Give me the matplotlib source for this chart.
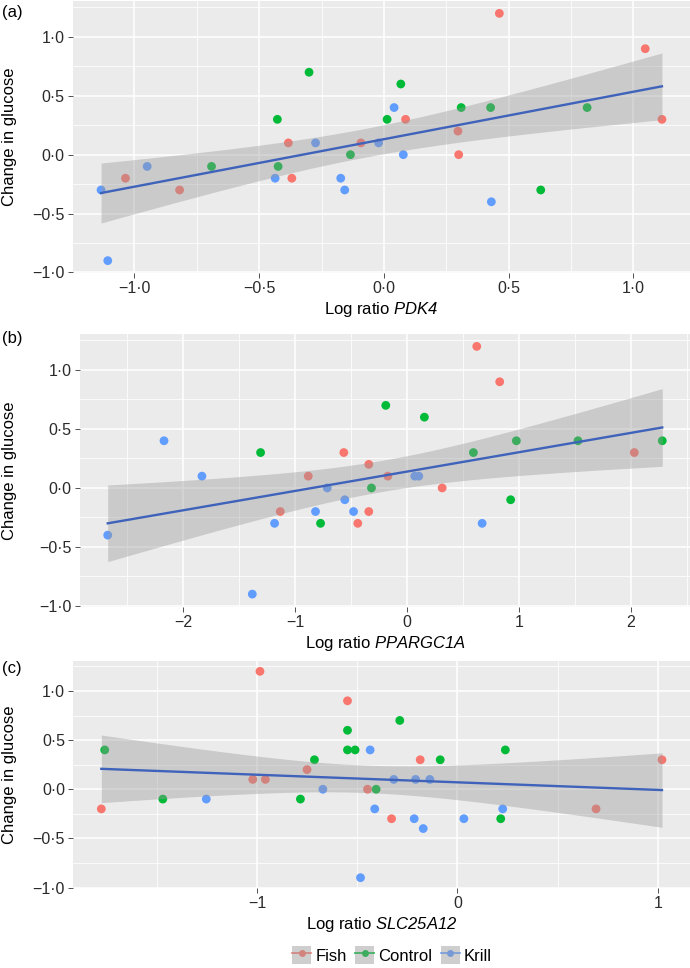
import numpy as np
import matplotlib
matplotlib.use("Agg")
import matplotlib.pyplot as plt
from matplotlib.lines import Line2D
from matplotlib.patches import Patch

plt.rcParams['font.family'] = ['Liberation Sans', 'DejaVu Sans']
plt.rcParams['mathtext.fontset'] = 'custom'
plt.rcParams['mathtext.it'] = 'Liberation Sans:italic'
plt.rcParams['mathtext.rm'] = 'Liberation Sans:italic'

groups = ['Fish', 'Control', 'Krill']
colors = ['#F8766D', '#00BA38', '#619CFF']

# (a) PDK4
pdk4_fish_x = [-1.036, -0.819, -0.383, -0.369, 0.463, 1.048, 1.115, 0.087, 0.297, -0.092, 0.300]
pdk4_fish_y = [-0.2, -0.3, 0.1, -0.2, 1.2, 0.9, 0.3, 0.3, 0.2, 0.1, 0.0]
pdk4_ctrl_x = [-0.691, -0.300, -0.427, -0.424, 0.068, 0.013, 0.310, 0.428, 0.815, -0.134, 0.629]
pdk4_ctrl_y = [-0.1, 0.7, 0.3, -0.1, 0.6, 0.3, 0.4, 0.4, 0.4, 0.0, -0.3]
pdk4_krill_x = [-1.134, -1.107, -0.949, -0.274, -0.436, -0.173, -0.157, 0.041, -0.021, 0.078, 0.431]
pdk4_krill_y = [-0.3, -0.9, -0.1, 0.1, -0.2, -0.2, -0.3, 0.4, 0.1, 0.0, -0.4]

# (b) PPARGC1A
ppar_fish_x = [-1.134, -0.884, -0.566, -0.441, -0.343, -0.343, -0.173, 0.313, 0.622, 0.827, 2.030]
ppar_fish_y = [-0.2, 0.1, 0.3, -0.3, -0.2, 0.2, 0.1, 0.0, 1.2, 0.9, 0.3]
ppar_ctrl_x = [-1.310, -0.774, -0.319, -0.191, 0.154, 0.592, 0.976, 0.925, 1.527, 2.280]
ppar_ctrl_y = [0.3, -0.3, 0.0, 0.7, 0.6, 0.3, 0.4, -0.1, 0.4, 0.4]
ppar_krill_x = [-2.676, -2.173, -1.834, -1.384, -1.185, -0.819, -0.714, -0.557, -0.479, 0.068, 0.104, 0.670]
ppar_krill_y = [-0.4, 0.4, 0.1, -0.9, -0.3, -0.2, 0.0, -0.1, -0.2, 0.1, 0.1, -0.3]

# (c) SLC25A12
slc_fish_x = [-1.778, -0.986, -1.022, -0.959, -0.751, -0.549, -0.186, 1.021, -0.449, -0.329, 0.692]
slc_fish_y = [-0.2, 1.2, 0.1, 0.1, 0.2, 0.9, 0.3, 0.3, 0.0, -0.3, -0.2]
slc_ctrl_x = [-1.761, -1.471, -0.784, -0.714, -0.549, -0.549, -0.511, -0.288, -0.086, 0.239, -0.406, 0.216]
slc_ctrl_y = [0.4, -0.1, -0.1, 0.3, 0.6, 0.4, 0.4, 0.7, 0.3, 0.4, 0.0, -0.3]
slc_krill_x = [-1.254, -0.672, -0.436, -0.318, -0.209, -0.138, -0.413, -0.216, -0.171, 0.032, 0.226, -0.484]
slc_krill_y = [-0.1, 0.0, 0.4, 0.1, 0.1, 0.1, -0.2, -0.3, -0.4, -0.3, -0.2, -0.9]

panels = [
    ('(a)', 'PDK4', [(pdk4_fish_x, pdk4_fish_y), (pdk4_ctrl_x, pdk4_ctrl_y), (pdk4_krill_x, pdk4_krill_y)],
     [-1.0, -0.5, 0.0, 0.5, 1.0], 1),
    ('(b)', 'PPARGC1A', [(ppar_fish_x, ppar_fish_y), (ppar_ctrl_x, ppar_ctrl_y), (ppar_krill_x, ppar_krill_y)],
     [-2, -1, 0, 1, 2], 0),
    ('(c)', 'SLC25A12', [(slc_fish_x, slc_fish_y), (slc_ctrl_x, slc_ctrl_y), (slc_krill_x, slc_krill_y)],
     [-1, 0, 1], 0),
]
yticks = [-1.0, -0.5, 0.0, 0.5, 1.0]

W, H = 690, 968
# left, top, bottom in pixels
boxes = [(73, 1, 273), (80, 334, 606.5), (73.3, 661, 888)]
label_y = [12, 338, 668]


def fmt(v, nd):
    if abs(v) < 1e-9:
        v = 0.0
    s = f"{v:.{nd}f}".replace('.', '\u00b7')
    return s.replace('-', '\u2212')


def expand(lo, hi):
    d = (hi - lo) * 0.05
    return lo - d, hi + d


fig = plt.figure(figsize=(W / 100, H / 100), dpi=100)

for (tag, gene, data, xt, nd), (l, t, b), ly in zip(panels, boxes, label_y):
    ax = fig.add_axes([l / W, 1 - b / H, (W - l) / W, (b - t) / H])
    ax.set_facecolor('#EBEBEB')
    for s in ax.spines.values():
        s.set_visible(False)

    allx = np.concatenate([np.array(d[0]) for d in data])
    ally = np.concatenate([np.array(d[1]) for d in data])
    xlim = expand(allx.min(), allx.max())
    ylim = expand(ally.min(), ally.max())

    # grid
    xminor = [(xt[i] + xt[i + 1]) / 2 for i in range(len(xt) - 1)]
    step = xt[1] - xt[0]
    xminor = [xt[0] - step / 2] + xminor + [xt[-1] + step / 2]
    yminor = [-0.75, -0.25, 0.25, 0.75, 1.25]
    for v in xminor:
        if xlim[0] < v < xlim[1]:
            ax.axvline(v, color='white', lw=0.55, zorder=0)
    for v in yminor:
        ax.axhline(v, color='white', lw=0.55, zorder=0)
    for v in xt:
        ax.axvline(v, color='white', lw=1.1, zorder=0)
    for v in yticks:
        ax.axhline(v, color='white', lw=1.1, zorder=0)

    for (x, y), c in zip(data, colors):
        ax.scatter(x, y, s=40, color=c, edgecolors='none', zorder=2)

    # linear fit with 95% band
    n = len(allx)
    slope, icpt = np.polyfit(allx, ally, 1)
    resid = ally - (slope * allx + icpt)
    sig = np.sqrt(np.sum(resid ** 2) / (n - 2))
    xs = np.linspace(allx.min(), allx.max(), 80)
    sxx = np.sum((allx - allx.mean()) ** 2)
    se = sig * np.sqrt(1 / n + (xs - allx.mean()) ** 2 / sxx)
    fit = slope * xs + icpt
    ax.fill_between(xs, fit - 2.04 * se, fit + 2.04 * se, color='#999999', alpha=0.4,
                    lw=0, zorder=3)
    ax.plot(xs, fit, color='#3F62BA', lw=1.7, zorder=4)

    ax.set_xlim(xlim)
    ax.set_ylim(ylim)
    ax.set_xticks(xt)
    ax.set_xticklabels([fmt(v, nd) for v in xt])
    ax.set_yticks(yticks)
    ax.set_yticklabels([fmt(v, 1) for v in yticks])
    ax.tick_params(length=3.5, width=0.6, color='#333333', labelsize=11.5,
                   labelcolor='#2A2A2A', pad=2.5)
    ax.set_xlabel('Log ratio $' + gene + '$', fontsize=12, labelpad=3)

    fig.text(10 / W, 1 - ((t + b) / 2) / H, 'Change in glucose', rotation=90,
             ha='center', va='center', fontsize=12)
    fig.text(2 / W, 1 - ly / H, tag, ha='left', va='center', fontsize=12)

handles = [(Patch(facecolor='#F2F2F2', edgecolor='none'),
            Line2D([], [], color=c, lw=1.2, marker='o', ms=5, markeredgewidth=0),
            Patch(facecolor='#999999', alpha=0.4, edgecolor='none'))
           for c in colors]
fig.legend(handles, groups, loc='center', bbox_to_anchor=(392 / W, 1 - 955 / H),
           ncol=3, frameon=False, fontsize=12, handlelength=1.15, handleheight=1.25,
           handletextpad=0.25, columnspacing=0.5, borderpad=0)

fig.savefig('out.png', dpi=100)
